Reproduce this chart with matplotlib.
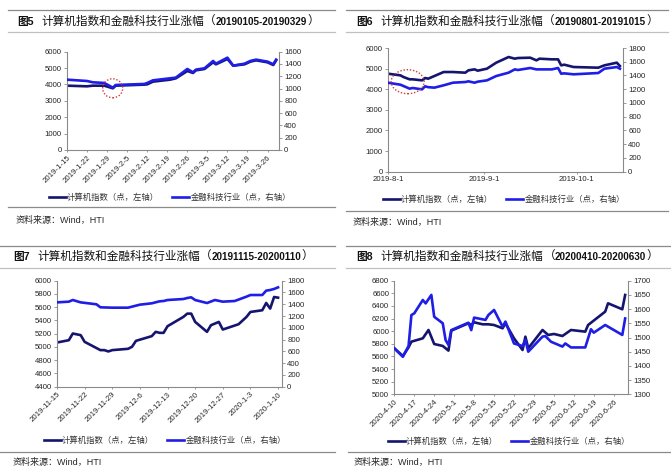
import matplotlib
matplotlib.use("Agg")
import matplotlib.pyplot as plt
import numpy as np
import pandas as pd
from matplotlib.lines import Line2D
from matplotlib.patches import Ellipse

# ---- data ----
# fig 5: 20190105-20190329
p5_dates = ["2019-01-15", "2019-01-22", "2019-01-24", "2019-01-28", "2019-01-31", "2019-02-01",
            "2019-02-11", "2019-02-12", "2019-02-14", "2019-02-20", "2019-02-22", "2019-02-26",
            "2019-02-28", "2019-03-01", "2019-03-04", "2019-03-07", "2019-03-08", "2019-03-12",
            "2019-03-14", "2019-03-18", "2019-03-20", "2019-03-22", "2019-03-26", "2019-03-28",
            "2019-03-29"]
p5_computer = [3927, 3887, 3927, 3927, 3765, 3927, 3990, 4009, 4172, 4294, 4375, 4823, 4701,
               4864, 4945, 5352, 5230, 5556, 5149, 5230, 5393, 5474, 5352, 5189, 5474]
p5_fintech = [1145, 1123, 1102, 1091, 1015, 1058, 1075, 1091, 1134, 1167, 1178, 1319, 1264,
              1308, 1330, 1449, 1405, 1503, 1373, 1405, 1449, 1471, 1438, 1395, 1471]

# fig 6: 20190801-20191015
p6_dates = ["2019-08-01", "2019-08-05", "2019-08-06", "2019-08-08", "2019-08-09", "2019-08-12",
            "2019-08-13", "2019-08-14", "2019-08-16", "2019-08-19", "2019-08-22", "2019-08-26",
            "2019-08-27", "2019-08-29", "2019-08-30", "2019-09-02", "2019-09-05", "2019-09-09",
            "2019-09-11", "2019-09-12", "2019-09-16", "2019-09-18", "2019-09-19", "2019-09-23",
            "2019-09-25", "2019-09-26", "2019-09-27", "2019-09-30", "2019-10-08", "2019-10-10",
            "2019-10-14", "2019-10-15"]
p6_computer = [4754, 4674, 4593, 4480, 4480, 4431, 4544, 4512, 4641, 4835, 4835, 4803, 4916,
               4965, 4900, 4997, 5288, 5563, 5482, 5514, 5530, 5401, 5482, 5450, 5450, 5159,
               5191, 5078, 5045, 5159, 5288, 5126]
p6_fintech = [1295, 1266, 1247, 1208, 1218, 1198, 1242, 1230, 1223, 1257, 1295, 1305, 1315,
              1295, 1310, 1329, 1392, 1441, 1489, 1480, 1509, 1489, 1489, 1489, 1509, 1426,
              1431, 1417, 1436, 1499, 1523, 1499]

# fig 7: 20191115-20200110
p7_dates_c = ["2019-11-15", "2019-11-18", "2019-11-19", "2019-11-21", "2019-11-22", "2019-11-26",
              "2019-11-27", "2019-11-28", "2019-11-29", "2019-12-03", "2019-12-04", "2019-12-05",
              "2019-12-09", "2019-12-10", "2019-12-11", "2019-12-12", "2019-12-13", "2019-12-17",
              "2019-12-18", "2019-12-19", "2019-12-20", "2019-12-23", "2019-12-24", "2019-12-26",
              "2019-12-27", "2019-12-31", "2020-01-02", "2020-01-03", "2020-01-06", "2020-01-07",
              "2020-01-08", "2020-01-09", "2020-01-10"]
p7_computer = [5067, 5102, 5203, 5178, 5077, 4952, 4952, 4932, 4952, 4972, 5002, 5092, 5163,
               5228, 5213, 5213, 5313, 5453, 5503, 5503, 5378, 5228, 5328, 5378, 5263, 5343,
               5453, 5528, 5554, 5664, 5579, 5754, 5744]
p7_dates_f = ["2019-11-15", "2019-11-18", "2019-11-19", "2019-11-21", "2019-11-25", "2019-11-26",
              "2019-11-29", "2019-12-03", "2019-12-04", "2019-12-06", "2019-12-09", "2019-12-11",
              "2019-12-12", "2019-12-13", "2019-12-17", "2019-12-18", "2019-12-19", "2019-12-20",
              "2019-12-23", "2019-12-25", "2019-12-27", "2019-12-30", "2020-01-02", "2020-01-03",
              "2020-01-06", "2020-01-07", "2020-01-08", "2020-01-09", "2020-01-10"]
p7_fintech = [1432, 1444, 1472, 1432, 1399, 1348, 1342, 1342, 1359, 1393, 1416, 1450, 1455,
              1472, 1489, 1506, 1518, 1472, 1421, 1472, 1444, 1455, 1529, 1557, 1557, 1631,
              1642, 1660, 1687]

# fig 8: 20200410-20200630
p8_dates_c = ["2020-04-10", "2020-04-13", "2020-04-15", "2020-04-16", "2020-04-20", "2020-04-22",
              "2020-04-24", "2020-04-27", "2020-04-29", "2020-04-30", "2020-05-06", "2020-05-07",
              "2020-05-08", "2020-05-11", "2020-05-13", "2020-05-15", "2020-05-18", "2020-05-19",
              "2020-05-22", "2020-05-25", "2020-05-26", "2020-05-27", "2020-06-01", "2020-06-03",
              "2020-06-05", "2020-06-08", "2020-06-11", "2020-06-16", "2020-06-17", "2020-06-23",
              "2020-06-24", "2020-06-29", "2020-06-30"]
p8_computer = [5729, 5607, 5744, 5834, 5887, 6019, 5797, 5766, 5692, 6009, 6125, 6098, 6141,
               6109, 6109, 6098, 6046, 6125, 5887, 5702, 5913, 5729, 6019, 5940, 5956, 5924,
               6019, 5993, 6098, 6310, 6442, 6347, 6574]
p8_dates_f = ["2020-04-10", "2020-04-13", "2020-04-15", "2020-04-16", "2020-04-17", "2020-04-20",
              "2020-04-21", "2020-04-23", "2020-04-24", "2020-04-27", "2020-04-28", "2020-04-29",
              "2020-04-30", "2020-05-06", "2020-05-07", "2020-05-08", "2020-05-12", "2020-05-13",
              "2020-05-15", "2020-05-18", "2020-05-19", "2020-05-22", "2020-05-25", "2020-05-26",
              "2020-05-27", "2020-06-01", "2020-06-02", "2020-06-04", "2020-06-08", "2020-06-09",
              "2020-06-11", "2020-06-16", "2020-06-18", "2020-06-19", "2020-06-23", "2020-06-29",
              "2020-06-30"]
p8_fintech = [1462, 1432, 1470, 1579, 1585, 1632, 1620, 1650, 1573, 1550, 1491, 1474, 1526,
              1552, 1526, 1570, 1562, 1579, 1597, 1538, 1556, 1479, 1470, 1491, 1450, 1503,
              1505, 1485, 1468, 1479, 1465, 1465, 1529, 1517, 1544, 1509, 1567]

label_left = "计算机指数（点，左轴）"
label_right = "金融科技行业（点，右轴）"
title_body = "计算机指数和金融科技行业涨幅"
source = "资料来源：Wind，HTI"

plt.rcParams['font.family'] = ['Liberation Sans', 'Noto Sans CJK SC']

W, H = 671, 474
DARK = '#15156f'
BLUE = '#1e1ee6'
AXC = '#8a8a8a'
TXT = '#262626'

fig = plt.figure(figsize=(W / 100, H / 100), dpi=100)
renderer = fig.canvas.get_renderer()


def px_box(l, t, r, b):
    return [l / W, 1 - b / H, (r - l) / W, (b - t) / H]


def hline(y, x0, x1, color='#9a9a9a', lw=0.9):
    fig.add_artist(Line2D([x0 / W, x1 / W], [1 - y / H, 1 - y / H], color=color, lw=lw))


def title(x, y, num, period):
    # pieces: (text, size, weight, gap before in px)
    parts = [("图" + str(num), 7.7, 'bold', 0), (title_body, 8.4, 'light', 8),
             ("（", 8.4, 'light', 0), (period, 7.1, 'bold', 0), ("）", 8.4, 'light', 0)]
    cx = x
    for txt, size, weight, gap in parts:
        cx += gap
        t = fig.text(cx / W, 1 - y / H, txt, fontsize=size, weight=weight, va='center',
                     color='#111111')
        cx = t.get_window_extent(renderer).x1


def panel(rect, dc, vc, df, vf, yl, ys, yr, yrs, xlim, xticks, rotate):
    ax = fig.add_axes(px_box(*rect))
    ax2 = ax.twinx()
    l1, = ax.plot(pd.to_datetime(dc), vc, color=DARK, lw=1.9, label=label_left)
    l2, = ax2.plot(pd.to_datetime(df), vf, color=BLUE, lw=1.9, label=label_right)
    ax.set_ylim(yl)
    ax.set_yticks(np.arange(yl[0], yl[1] + 1, ys))
    ax2.set_ylim(yr)
    ax2.set_yticks(np.arange(yr[0], yr[1] + 1, yrs))
    ax.set_xlim(pd.Timestamp(xlim[0]), pd.Timestamp(xlim[1]))
    ticks = pd.to_datetime(xticks)
    ax.set_xticks(ticks)
    labels = [f"{d.year}-{d.month}-{d.day}" for d in ticks]
    if rotate:
        ax.set_xticklabels(labels, rotation=45, ha='right', va='top', rotation_mode='anchor')
    else:
        ax.set_xticklabels(labels)
    for a in (ax, ax2):
        for s in a.spines.values():
            s.set_visible(False)
    ax.spines['left'].set_visible(True)
    ax.spines['bottom'].set_visible(True)
    ax2.spines['right'].set_visible(True)
    for s in (ax.spines['left'], ax.spines['bottom'], ax2.spines['right']):
        s.set_color(AXC)
        s.set_linewidth(0.8)
    for a in (ax, ax2):
        a.tick_params(labelsize=5.6, length=2.2, width=0.6, color=AXC, labelcolor=TXT, pad=1.5)
    ax.tick_params(axis='x', length=1.5)
    return [l1, l2]


def legend(handles, cx, cy):
    fig.legend(handles, [h.get_label() for h in handles], loc='center',
               bbox_to_anchor=(cx / W, 1 - cy / H), ncol=2, frameon=False,
               prop={'family': ['Noto Sans CJK SC'], 'size': 6.0, 'weight': 'light'},
               handlelength=2.0, handletextpad=0.15, columnspacing=1.6, labelcolor='#333333')


def weekly(start, end):
    return pd.date_range(start, end, freq='7D')


# ---- fig 5 ----
hline(10, 8, 335, '#8a8a8a')
hline(32, 8, 335, '#c0c0c0')
title(17, 22, 5, "20190105-20190329")
h = panel((67, 51.7, 279, 150), p5_dates, p5_computer, p5_dates, p5_fintech,
          (0, 6000), 1000, (0, 1600), 200, ("2019-01-15", "2019-03-30"),
          weekly("2019-01-15", "2019-03-26"), True)
legend(h, 170, 197)
hline(207, 8, 335, '#8a8a8a')
fig.text(16 / W, 1 - 220 / H, source, fontsize=6.5, va='center', color=TXT)
fig.add_artist(Ellipse((112.7 / W, 1 - 88.3 / H), 20 / W, 19 / H, transform=fig.transFigure,
                       fill=False, ec='#d43a3a', lw=1.0, ls=(0, (1, 1.3))))

# ---- fig 6 ----
hline(10, 346, 668, '#8a8a8a')
hline(32, 346, 668, '#c0c0c0')
title(356, 22, 6, "20190801-20191015")
h = panel((388, 48, 623, 171.7), p6_dates, p6_computer, p6_dates, p6_fintech,
          (0, 6000), 1000, (0, 1800), 200, ("2019-08-01", "2019-10-16"),
          ["2019-08-01", "2019-09-01", "2019-10-01"], False)
legend(h, 504, 199)
hline(211, 346, 668, '#8a8a8a')
fig.text(353 / W, 1 - 222 / H, source, fontsize=6.5, va='center', color=TXT)
fig.add_artist(Ellipse((407.7 / W, 1 - 81.7 / H), 33 / W, 24 / H, transform=fig.transFigure,
                       fill=False, ec='#d43a3a', lw=1.0, ls=(0, (1, 1.3))))

# ---- fig 7 ----
hline(246, 0, 335, '#8a8a8a')
hline(268, 0, 335, '#c0c0c0')
title(13, 257, 7, "20191115-20200110")
h = panel((57, 280.7, 282, 386.7), p7_dates_c, p7_computer, p7_dates_f, p7_fintech,
          (4400, 6000), 200, (0, 1800), 200, ("2019-11-15", "2020-01-11"),
          weekly("2019-11-15", "2020-01-10"), True)
legend(h, 165, 440)
hline(452, 0, 335, '#8a8a8a')
fig.text(13 / W, 1 - 462 / H, source, fontsize=6.5, va='center', color=TXT)

# ---- fig 8 ----
hline(246, 346, 670, '#8a8a8a')
hline(268, 346, 670, '#c0c0c0')
title(356, 257, 8, "20200410-20200630")
h = panel((394.3, 280.7, 628, 394.3), p8_dates_c, p8_computer, p8_dates_f, p8_fintech,
          (5000, 6800), 200, (1300, 1700), 50, ("2020-04-10", "2020-07-01"),
          weekly("2020-04-10", "2020-06-26"), True)
legend(h, 509, 441)
hline(452, 348, 670, '#8a8a8a')
fig.text(354 / W, 1 - 462 / H, source, fontsize=6.5, va='center', color=TXT)

fig.savefig("out.png", dpi=100)
